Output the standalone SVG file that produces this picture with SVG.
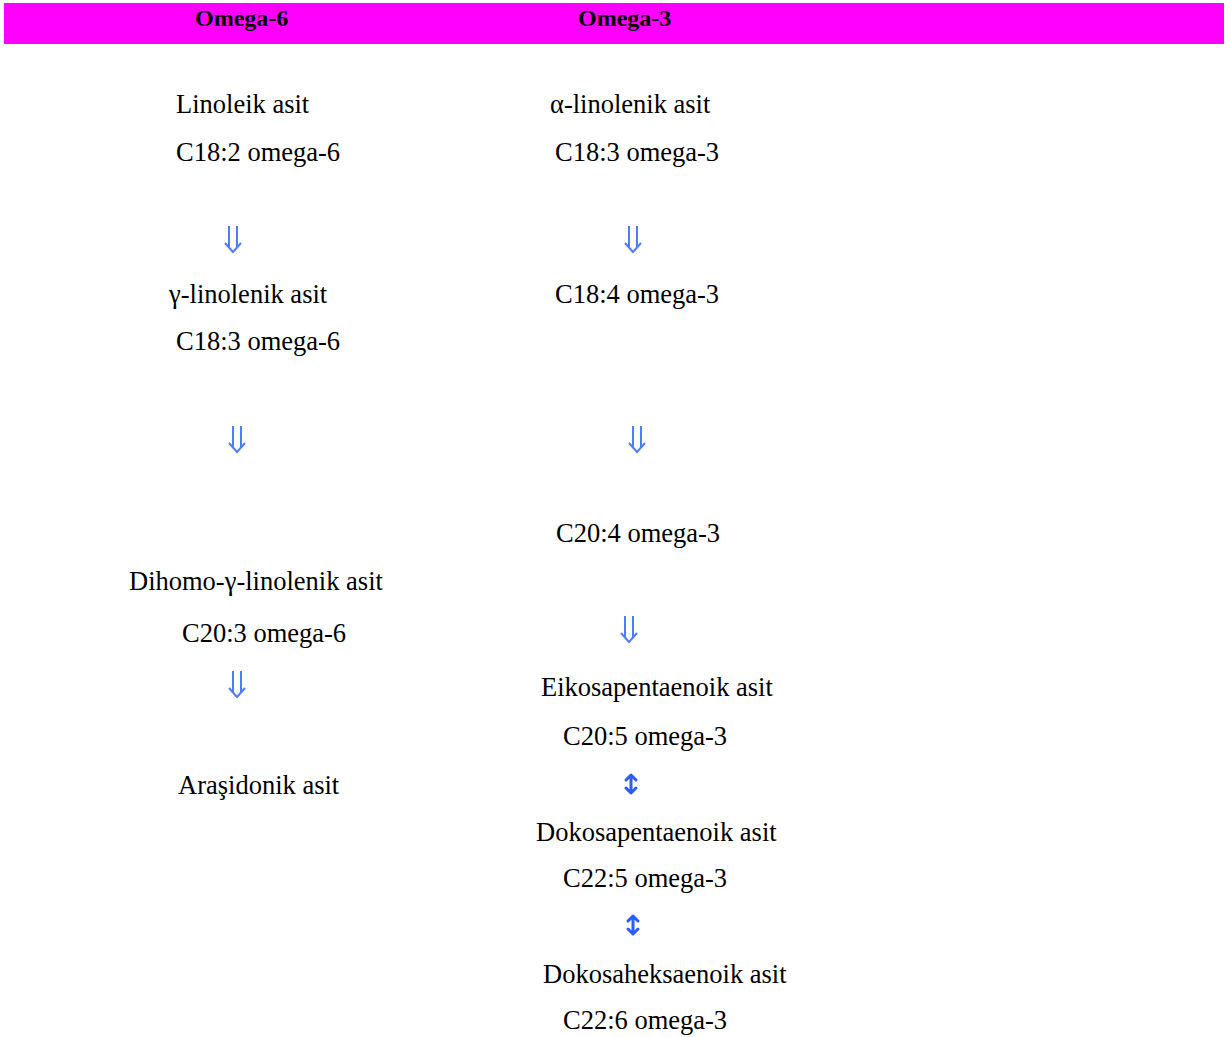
<svg xmlns="http://www.w3.org/2000/svg" width="1231" height="1037" viewBox="0 0 1231 1037">
<style>
.t{font-family:"Liberation Serif","Times New Roman",serif;font-size:26.5px;fill:#000}
.h{font-family:"Liberation Serif","Times New Roman",serif;font-size:24px;font-weight:bold;fill:#000}
.da{fill:none;stroke:#4f7bff;stroke-width:2}
.ud{fill:none;stroke:#2b5cff;stroke-width:3;stroke-linecap:round;stroke-linejoin:round}
</style>
<defs>
<g id="dn"><path class="da" d="M-4,0V22M4,0V22M-8,17L0,26L8,17"/></g>
<g id="ud"><path class="ud" d="M0,2V20M-5,7L0,2L5,7M-5,15L0,20L5,15"/></g>
</defs>
<rect x="4" y="3" width="1220" height="41" fill="#ff00ff"/>
<g id="header">
<text class="h" x="195" y="26">Omega-6</text>
<text class="h" x="578" y="26">Omega-3</text>
</g>
<g id="linoleik"><text class="t" x="176" y="113">Linoleik asit</text><text class="t" x="176" y="161">C18:2 omega-6</text></g>
<g id="alpha-linolenik"><text class="t" x="550" y="113">α-linolenik asit</text><text class="t" x="555" y="161">C18:3 omega-3</text></g>
<g id="gamma-linolenik"><text class="t" x="169" y="303">γ-linolenik asit</text><text class="t" x="176" y="350">C18:3 omega-6</text></g>
<g id="c18-4"><text class="t" x="555" y="303">C18:4 omega-3</text></g>
<g id="c20-4"><text class="t" x="556" y="542">C20:4 omega-3</text></g>
<g id="dihomo"><text class="t" x="129" y="590">Dihomo-γ-linolenik asit</text><text class="t" x="182" y="642">C20:3 omega-6</text></g>
<g id="eikosa"><text class="t" x="541" y="696">Eikosapentaenoik asit</text><text class="t" x="563" y="745">C20:5 omega-3</text></g>
<g id="arasidonik"><text class="t" x="178" y="794">Araşidonik asit</text></g>
<g id="dokosapenta"><text class="t" x="536" y="841">Dokosapentaenoik asit</text><text class="t" x="563" y="887">C22:5 omega-3</text></g>
<g id="dokosaheksa"><text class="t" x="543" y="983">Dokosaheksaenoik asit</text><text class="t" x="563" y="1029">C22:6 omega-3</text></g>
<g id="connectors">
<use href="#dn" x="233" y="226"/>
<use href="#dn" x="633" y="226"/>
<use href="#dn" x="237" y="426"/>
<use href="#dn" x="637" y="426"/>
<use href="#dn" x="629" y="616"/>
<use href="#dn" x="237" y="671"/>
<use href="#ud" x="631" y="773"/>
<use href="#ud" x="633" y="914"/>
</g>
</svg>
